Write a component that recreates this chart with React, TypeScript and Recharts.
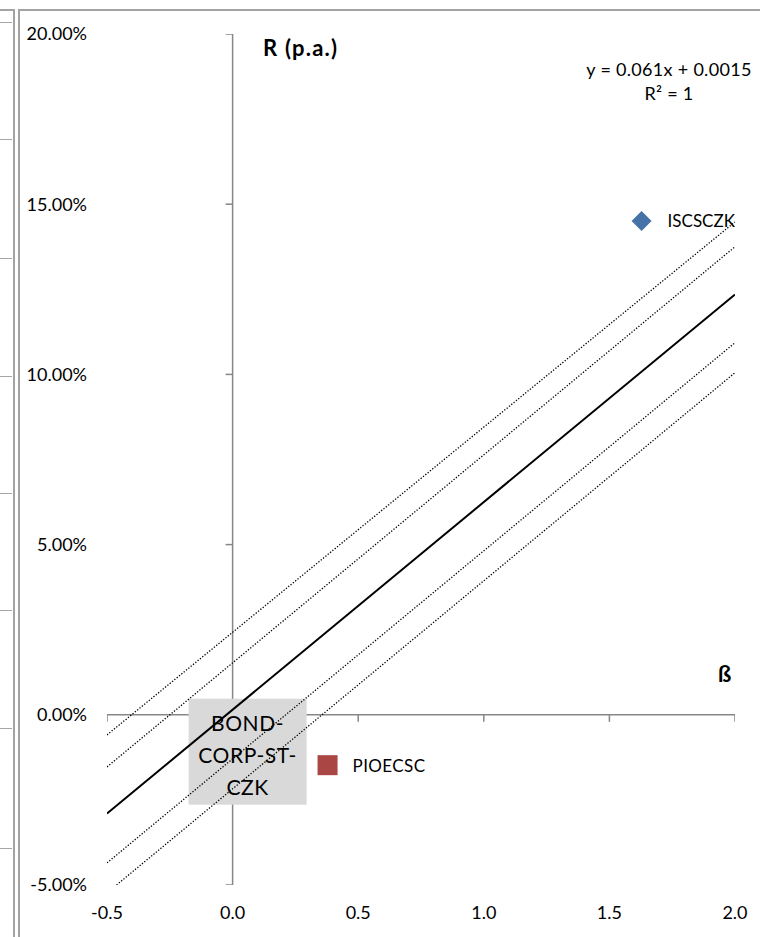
import { ScatterChart, Scatter, XAxis, YAxis } from "recharts";

// axis ticks
const xTicks = [-0.5, 0, 0.5, 1, 1.5, 2];
const yTicks = [-0.05, 0, 0.05, 0.1, 0.15, 0.2];

// points (beta, return p.a.)
const iscsczk = [{ x: 1.628, y: 0.1451, name: "ISCSCZK" }];
const pioecsc = [{ x: 0.378, y: -0.0148, name: "PIOECSC" }];
const bond = [{ x: 0, y: 0.0015, name: "BOND-CORP-ST-CZK" }];

// trendline y = 0.061x + 0.0015 and the dotted bands
const trendLine = [{ x: -0.5, y: -0.029 }, { x: 2, y: 0.1235 }];
const bandUpper2 = [{ x: -0.5, y: -0.0059 }, { x: 2, y: 0.1448 }];
const bandUpper1 = [{ x: -0.5, y: -0.0153 }, { x: 2, y: 0.1375 }];
const bandLower1 = [{ x: -0.5, y: -0.0435 }, { x: 2, y: 0.1093 }];
const bandLower2 = [{ x: -0.462, y: -0.05 }, { x: 2, y: 0.1005 }];

// axes crossing at zero
const xAxisLine = [{ x: -0.5, y: 0 }, { x: 2, y: 0 }];
const yAxisLine = [{ x: 0, y: -0.05 }, { x: 0, y: 0.2 }];
const xTickMarks = xTicks.map((v) => ({ x: v, y: 0 }));
const yTickMarks = yTicks.map((v) => ({ x: 0, y: v }));

const font = "Lato, 'Open Sans', sans-serif";
const axisGrey = "#878787";
const noShape = () => <g />;

const Diamond = (p: any) => (
    <g>
        <polygon
            points={`${p.cx},${p.cy - 10} ${p.cx + 10},${p.cy} ${p.cx},${p.cy + 10} ${p.cx - 10},${p.cy}`}
            fill="#4572A7"
        />
        <text x={p.cx + 26} y={p.cy} dominantBaseline="central" fontFamily={font} fontSize={17} fill="#000">
            {p.payload.name}
        </text>
    </g>
);

const Square = (p: any) => (
    <g>
        <rect x={p.cx - 10} y={p.cy - 10} width={20} height={20} fill="#AA4643" />
        <text x={p.cx + 25} y={p.cy} dominantBaseline="central" fontFamily={font} fontSize={17} letterSpacing={0.4} fill="#000">
            {p.payload.name}
        </text>
    </g>
);

const BondLabel = (p: any) => {
    const lines = ["BOND-", "CORP-ST-", "CZK"];
    return (
        <g>
            <rect x={p.cx - 44} y={p.cy - 11} width={118} height={106} fill="#d9d9d9" />
            {lines.map((l, i) => (
                <text key={l} x={p.cx + 15} y={p.cy + 13 + i * 32} textAnchor="middle" dominantBaseline="central"
                    fontFamily={font} fontSize={21} letterSpacing={0.6} fill="#000">
                    {l}
                </text>
            ))}
        </g>
    );
};

const XTick = (p: any) => <line x1={p.cx} y1={p.cy} x2={p.cx} y2={p.cy + 7} stroke={axisGrey} strokeWidth={1.5} />;
const YTick = (p: any) => <line x1={p.cx - 7} y1={p.cy} x2={p.cx} y2={p.cy} stroke={axisGrey} strokeWidth={1.5} />;

const frame = "#a3a3a3";
const stubs = [22, 139, 258, 376, 493, 610, 728, 848];

export default function App() {
    return (
        <div style={{ position: "absolute", left: 0, top: 0, width: 760, height: 937, background: "#fff", overflow: "hidden", fontFamily: font }}>
            {/* edge of the neighbouring chart and this chart's frame */}
            <div style={{ position: "absolute", left: 0, top: 9, width: 15, height: 2, background: frame }} />
            <div style={{ position: "absolute", left: 13, top: 9, width: 2, height: 928, background: frame }} />
            <div style={{ position: "absolute", left: 18, top: 9, width: 742, height: 2, background: frame }} />
            <div style={{ position: "absolute", left: 18, top: 9, width: 2, height: 928, background: frame }} />
            {stubs.map((y) => (
                <div key={y} style={{ position: "absolute", left: 0, top: y, width: 12, height: 1, background: "#a6a6a6" }} />
            ))}

            <ScatterChart width={760} height={937} margin={{ top: 34, right: 25, bottom: 0, left: 0 }}>
                <XAxis type="number" dataKey="x" domain={[-0.5, 2]} ticks={xTicks} interval={0} allowDataOverflow
                    height={52} axisLine={false} tickLine={false} tickMargin={15}
                    tick={{ fill: "#000", fontSize: 18, fontFamily: font }}
                    tickFormatter={(v: number) => v.toFixed(1)} />
                <YAxis type="number" dataKey="y" domain={[-0.05, 0.2]} ticks={yTicks} interval={0} allowDataOverflow
                    width={107} axisLine={false} tickLine={false} tickMargin={14}
                    tick={{ fill: "#000", fontSize: 18, fontFamily: font }}
                    tickFormatter={(v: number) => (v * 100).toFixed(2) + "%"} />

                <Scatter data={xAxisLine} line={{ stroke: axisGrey, strokeWidth: 1.5 }} shape={noShape} isAnimationActive={false} />
                <Scatter data={yAxisLine} line={{ stroke: axisGrey, strokeWidth: 1.5 }} shape={noShape} isAnimationActive={false} />
                <Scatter data={xTickMarks} shape={XTick} isAnimationActive={false} />
                <Scatter data={yTickMarks} shape={YTick} isAnimationActive={false} />

                <Scatter data={bond} shape={BondLabel} isAnimationActive={false} />

                <Scatter data={bandUpper2} line={{ stroke: "#000", strokeWidth: 1.3, strokeDasharray: "1.3 1.7" }} shape={noShape} isAnimationActive={false} />
                <Scatter data={bandUpper1} line={{ stroke: "#000", strokeWidth: 1.3, strokeDasharray: "1.3 1.7" }} shape={noShape} isAnimationActive={false} />
                <Scatter data={bandLower1} line={{ stroke: "#000", strokeWidth: 1.3, strokeDasharray: "1.3 1.7" }} shape={noShape} isAnimationActive={false} />
                <Scatter data={bandLower2} line={{ stroke: "#000", strokeWidth: 1.3, strokeDasharray: "1.3 1.7" }} shape={noShape} isAnimationActive={false} />
                <Scatter data={trendLine} line={{ stroke: "#000", strokeWidth: 2 }} shape={noShape} isAnimationActive={false} />

                <Scatter data={iscsczk} shape={Diamond} isAnimationActive={false} />
                <Scatter data={pioecsc} shape={Square} isAnimationActive={false} />
            </ScatterChart>

            <div style={{ position: "absolute", left: 263, top: 34, fontSize: 22, fontWeight: 700, letterSpacing: 1.2, whiteSpace: "nowrap" }}>
                R (p.a.)
            </div>
            <div style={{ position: "absolute", left: 718, top: 660, fontSize: 22, fontWeight: 700 }}>ß</div>
            <div style={{ position: "absolute", left: 584, top: 57, width: 170, textAlign: "center", fontSize: 18, lineHeight: "24px", letterSpacing: 0.3, whiteSpace: "nowrap" }}>
                <div>y = 0.061x + 0.0015</div>
                <div>R² = 1</div>
            </div>
        </div>
    );
}
